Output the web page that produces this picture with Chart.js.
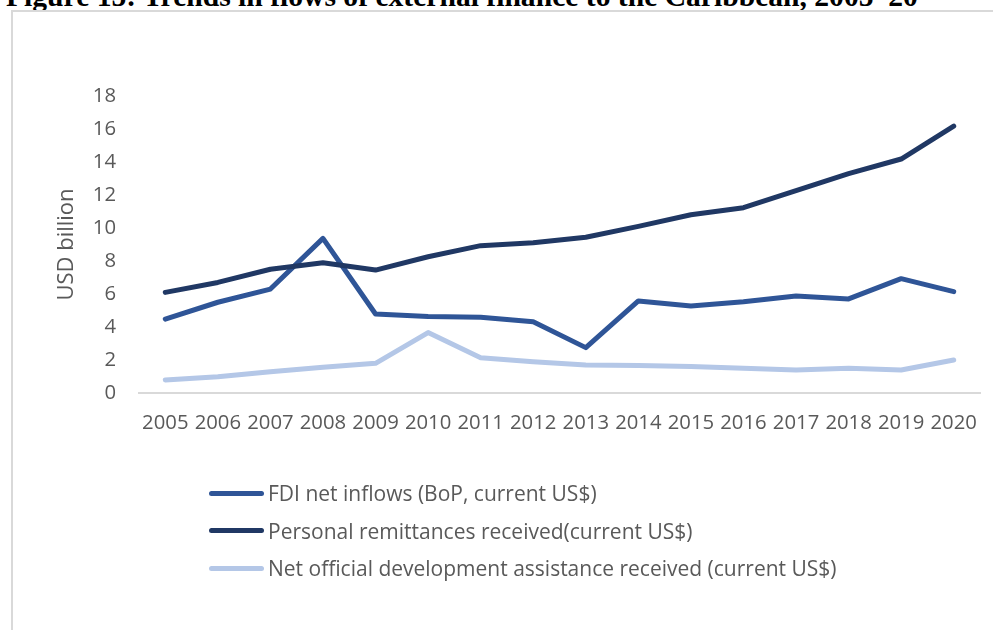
<!DOCTYPE html>
<html>
<head>
<meta charset="utf-8">
<title>Trends in flows of external finance to the Caribbean</title>
<script src="https://cdn.jsdelivr.net/npm/chart.js@4.4.1/dist/chart.umd.min.js"></script>
<style>
  html, body { margin: 0; padding: 0; background: #fff; }
  body { width: 993px; height: 630px; position: relative; overflow: hidden; }
  #heading {
    position: absolute; left: 6px; top: -18px;
    font: bold 29.6px/29.6px "Liberation Serif", "Times New Roman", serif;
    color: #000; white-space: nowrap;
  }
  #frame {
    position: absolute; left: 11px; top: 10px; width: 1000px; height: 700px;
    border: 2px solid #d9d9d9; box-sizing: border-box;
  }
  #chartBox { position: absolute; left: 0; top: 0; width: 993px; height: 630px; }
  #legend {
    position: absolute; left: 209px; top: 474.5px;
    font: 21px "Open Sans", sans-serif; color: #595959;
  }
  #legend .item { display: flex; align-items: center; height: 37.5px; white-space: nowrap; }
  #legend .swatch { width: 55px; height: 5px; border-radius: 3px; margin-right: 4px; }
</style>
</head>
<body>
<div id="heading">Figure 15: Trends in flows of external finance to the Caribbean, 2005–20</div>
<div id="frame"></div>
<div id="chartBox"><canvas id="financeChart" width="993" height="630"></canvas></div>
<div id="legend"></div>

<script>
// USD billion, one value per year
const years = ["2005", "2006", "2007", "2008", "2009", "2010", "2011", "2012",
               "2013", "2014", "2015", "2016", "2017", "2018", "2019", "2020"];
const fdiInflows  = [4.48, 5.5, 6.3, 9.37, 4.79, 4.63, 4.59, 4.32, 2.75, 5.58, 5.27, 5.53, 5.88, 5.7, 6.93, 6.14];
const remittances = [6.1, 6.7, 7.5, 7.9, 7.45, 8.26, 8.93, 9.1, 9.44, 10.1, 10.8, 11.23, 12.26, 13.3, 14.18, 16.18];
const odaReceived = [0.79, 0.99, 1.29, 1.56, 1.8, 3.66, 2.14, 1.9, 1.7, 1.66, 1.6, 1.5, 1.39, 1.5, 1.39, 2.0];
const seriesNames = [
  "FDI net inflows (BoP, current US$)",
  "Personal remittances received(current US$)",
  "Net official development assistance received (current US$)"
];
const yMin = 0, yMax = 18, yStep = 2;
const yTitle = "USD billion";

const textGrey = "#595959";
Chart.defaults.font.family = "'Open Sans', sans-serif";
Chart.defaults.color = textGrey;

function line(label, data, color, order) {
  return {
    label: label,
    data: data,
    borderColor: color,
    backgroundColor: color,
    borderWidth: 5,
    borderCapStyle: "round",
    borderJoinStyle: "round",
    pointRadius: 0,
    tension: 0,
    fill: false,
    order: order
  };
}

const chart = new Chart(document.getElementById("financeChart"), {
  type: "line",
  data: {
    labels: years,
    datasets: [
      line(seriesNames[0], fdiInflows, "#2f5597", 3),
      line(seriesNames[1], remittances, "#203864", 2),
      line(seriesNames[2], odaReceived, "#b4c7e7", 1)
    ]
  },
  options: {
    responsive: false,
    animation: false,
    layout: { padding: { top: 96, right: 13, bottom: 0, left: 0 } },
    plugins: {
      legend: { display: false },
      tooltip: { enabled: false }
    },
    scales: {
      x: {
        offset: true,
        grid: { display: false, drawTicks: false },
        border: { display: true, color: "#d9d9d9", width: 2 },
        ticks: { font: { size: 20.3 }, color: textGrey, padding: 18, autoSkip: false, maxRotation: 0 },
        afterFit: (scale) => {
          scale.height = 237;
          scale.paddingLeft = 0;
          scale.paddingRight = 0;
        }
      },
      y: {
        min: yMin,
        max: yMax,
        grid: { display: false, drawTicks: false },
        border: { display: false },
        ticks: { stepSize: yStep, font: { size: 20.3 }, color: textGrey, padding: 23 },
        title: { display: true, text: yTitle, font: { size: 22 }, color: textGrey, padding: { top: 54 } },
        afterFit: (scale) => { scale.width = 139; }
      }
    }
  }
});

// legend stacked one entry per row, built from the chart's datasets
const legendBox = document.getElementById("legend");
chart.data.datasets.forEach(ds => {
  const row = document.createElement("div");
  row.className = "item";
  const swatch = document.createElement("span");
  swatch.className = "swatch";
  swatch.style.background = ds.borderColor;
  const text = document.createElement("span");
  text.textContent = ds.label;
  row.appendChild(swatch);
  row.appendChild(text);
  legendBox.appendChild(row);
});
</script>
</body>
</html>
